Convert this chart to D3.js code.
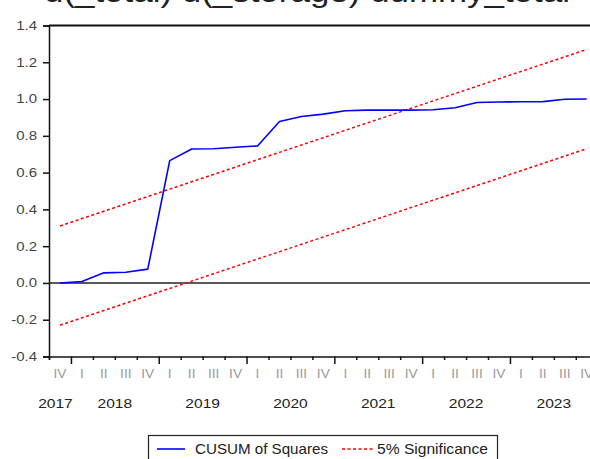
<!DOCTYPE html>
<html>
<head>
<meta charset="utf-8">
<script src="https://cdn.jsdelivr.net/npm/d3@7"></script>
<style>
  html, body { margin: 0; padding: 0; background: #fff; }
  svg { display: block; font-family: Arial, "Liberation Sans", sans-serif; }
</style>
</head>
<body>
<svg id="chart" width="590" height="459"></svg>
<script>
// Quarterly sample 2017Q4 – 2023Q4
const quarterLabels = ["IV","I","II","III","IV","I","II","III","IV","I","II","III","IV",
                       "I","II","III","IV","I","II","III","IV","I","II","III","IV"];
const yearLabels = ["2017","2018","2019","2020","2021","2022","2023"];
// index of the first quarter of each year within the sample (2017 starts before it)
const yearStart = [-3, 1, 5, 9, 13, 17, 21];

// CUSUM of squares statistic
const cusumSq = [0.000, 0.008, 0.055, 0.058, 0.075, 0.665, 0.728, 0.730, 0.738, 0.745,
                 0.878, 0.905, 0.918, 0.936, 0.940, 0.940, 0.940, 0.942, 0.953, 0.981,
                 0.984, 0.985, 0.986, 0.999, 1.000];
// 5% significance bounds
const upperBound = [0.31, 0.35, 0.39, 0.43, 0.47, 0.51, 0.55, 0.59, 0.63, 0.67, 0.71, 0.75, 0.79,
                    0.83, 0.87, 0.91, 0.95, 0.99, 1.03, 1.07, 1.11, 1.15, 1.19, 1.23, 1.27];
const lowerBound = [-0.23, -0.19, -0.15, -0.11, -0.07, -0.03, 0.01, 0.05, 0.09, 0.13, 0.17, 0.21, 0.25,
                    0.29, 0.33, 0.37, 0.41, 0.45, 0.49, 0.53, 0.57, 0.61, 0.65, 0.69, 0.73];
const yTicks = [-0.4, -0.2, 0.0, 0.2, 0.4, 0.6, 0.8, 1.0, 1.2, 1.4];

const svg = d3.select("#chart");
const plotLeft = 49, plotTop = 25.5, plotBottom = 356.5;
const nQ = quarterLabels.length;
const qStep = 21.95;

const x = d3.scaleLinear().domain([-0.5, nQ - 0.5]).range([plotLeft, plotLeft + nQ * qStep]);
const y = d3.scaleLinear().domain([-0.4, 1.4]).range([plotBottom, plotTop]);
const plotRight = x.range()[1];

// widen a text element horizontally by a factor
function stretch(sel, k) {
  sel.each(function () {
    const len = this.getComputedTextLength();
    d3.select(this).attr("textLength", len * k).attr("lengthAdjust", "spacingAndGlyphs");
  });
}

// heading (runs off the top edge)
svg.append("text")
  .attr("x", 44).attr("y", 2)
  .attr("font-size", 30).attr("fill", "#222")
  .attr("textLength", 526).attr("lengthAdjust", "spacingAndGlyphs")
  .text("d(_total) d(_storage) dummy_total");

// frame top
svg.append("line")
  .attr("x1", plotLeft).attr("x2", plotRight).attr("y1", plotTop).attr("y2", plotTop)
  .attr("stroke", "#111").attr("stroke-width", 2);

// y axis
const yAxis = svg.append("g")
  .attr("transform", `translate(${plotLeft},0)`)
  .call(d3.axisLeft(y).tickValues(yTicks).tickSize(6).tickPadding(6)
        .tickFormat(d => d3.format(".1f")(d).replace("\u2212", "-")));
yAxis.select(".domain").attr("stroke", "#111").attr("stroke-width", 1.5);
yAxis.selectAll(".tick line").attr("stroke", "#111").attr("stroke-width", 1.5);
yAxis.selectAll(".tick text")
  .attr("font-size", 12).attr("fill", "#444").attr("font-family", "Arial, 'Liberation Sans', sans-serif")
  .call(stretch, 1.25);

// x axis: ticks on quarter boundaries, longer at year boundaries
const boundaries = d3.range(-0.5, nQ, 1);
const isYearEdge = b => quarterLabels[Math.round(b + 0.5)] === "I";
const xAxis = svg.append("g")
  .attr("transform", `translate(0,${plotBottom})`)
  .call(d3.axisBottom(x).tickValues(boundaries).tickSize(3.5).tickFormat(""));
xAxis.select(".domain").attr("stroke", "#111").attr("stroke-width", 1.5);
xAxis.selectAll(".tick line")
  .attr("stroke", "#111").attr("stroke-width", 1.5)
  .attr("y2", d => isYearEdge(d) ? 7.5 : 3.5);

// quarter labels
svg.append("g").selectAll("text")
  .data(quarterLabels)
  .join("text")
  .attr("x", (d, i) => x(i))
  .attr("y", 378)
  .attr("text-anchor", "middle")
  .attr("font-size", 12.5).attr("fill", "#9a9a9a")
  .text(d => d)
  .call(stretch, 1.1);

// year labels centred under their quarters
svg.append("g").selectAll("text")
  .data(yearLabels)
  .join("text")
  .attr("x", (d, i) => i === 0 ? x(0) - 4.5 : x(yearStart[i] + 1.5))
  .attr("y", 408)
  .attr("text-anchor", "middle")
  .attr("font-size", 13.5).attr("fill", "#222")
  .text(d => d)
  .call(stretch, 1.15);

// zero line
svg.append("line")
  .attr("x1", plotLeft).attr("x2", plotRight).attr("y1", y(0)).attr("y2", y(0))
  .attr("stroke", "#222").attr("stroke-width", 1.6);

const line = d3.line().x((d, i) => x(i)).y(d => y(d));

// significance bounds
[upperBound, lowerBound].forEach(b => {
  svg.append("path")
    .attr("d", line(b))
    .attr("fill", "none").attr("stroke", "#ff0000")
    .attr("stroke-width", 1.5).attr("stroke-dasharray", "3,2.5");
});

// CUSUM of squares
svg.append("path")
  .attr("d", line(cusumSq))
  .attr("fill", "none").attr("stroke", "#0000ff")
  .attr("stroke-width", 1.6).attr("stroke-linejoin", "round");

// legend
const lg = svg.append("g");
lg.append("rect")
  .attr("x", 148.5).attr("y", 435.5).attr("width", 349).attr("height", 30)
  .attr("fill", "#fff").attr("stroke", "#222").attr("stroke-width", 1.2);
lg.append("line")
  .attr("x1", 157).attr("x2", 185).attr("y1", 449).attr("y2", 449)
  .attr("stroke", "#0000ff").attr("stroke-width", 1.6);
lg.append("text")
  .attr("x", 195).attr("y", 453.5)
  .attr("font-size", 14.5).attr("fill", "#222")
  .attr("textLength", 133).attr("lengthAdjust", "spacingAndGlyphs")
  .text("CUSUM of Squares");
lg.append("line")
  .attr("x1", 342).attr("x2", 373).attr("y1", 449).attr("y2", 449)
  .attr("stroke", "#ff0000").attr("stroke-width", 1.5).attr("stroke-dasharray", "3,2.5");
lg.append("text")
  .attr("x", 377).attr("y", 453.5)
  .attr("font-size", 14.5).attr("fill", "#222")
  .attr("textLength", 111).attr("lengthAdjust", "spacingAndGlyphs")
  .text("5% Significance");
</script>
</body>
</html>
